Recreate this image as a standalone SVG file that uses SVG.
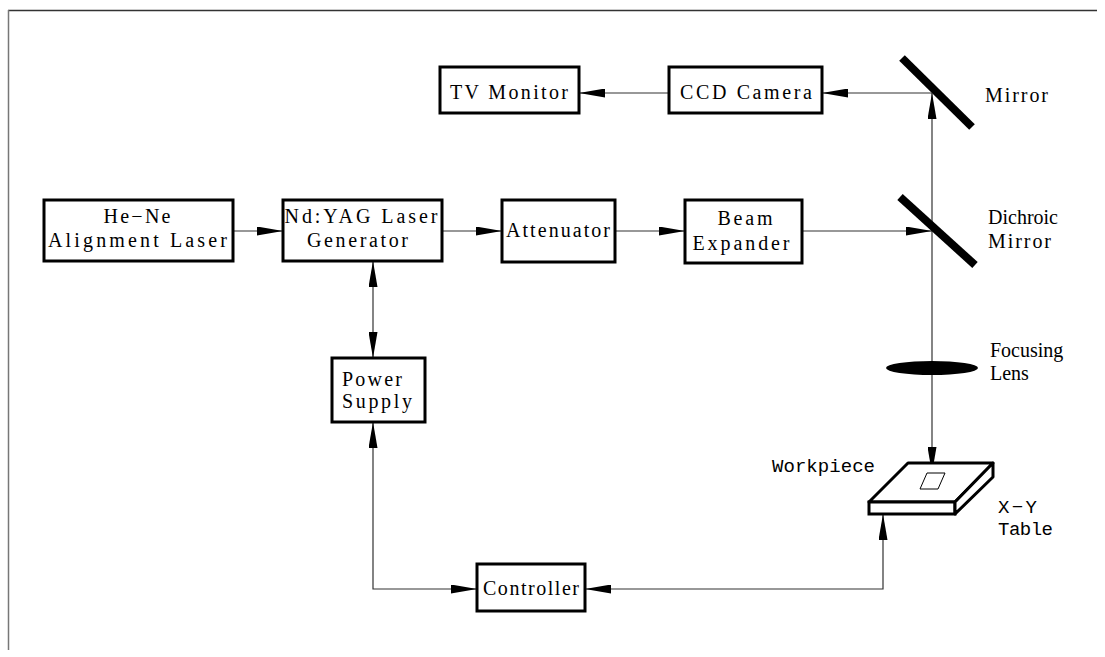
<svg xmlns="http://www.w3.org/2000/svg" width="1105" height="657" viewBox="0 0 1105 657">
<defs>
<marker id="ah" markerUnits="userSpaceOnUse" markerWidth="26" markerHeight="9" refX="26" refY="4.5" orient="auto-start-reverse" viewBox="0 0 26 9">
<path d="M0,0 L26,4.5 L0,9 z" fill="#000"/>
</marker>
<style>
.box{fill:#fff;stroke:#000;stroke-width:3}
.t{font-family:"Liberation Serif","DejaVu Serif",serif;font-size:20px;fill:#000}
.m{font-family:"Liberation Mono","DejaVu Sans Mono",monospace;font-size:19px;fill:#000}
.c{fill:none;stroke:#333;stroke-width:1.2}
.mir{stroke:#000;stroke-width:8}
</style>
</defs>
<rect width="1105" height="657" fill="#fff"/>
<g id="frame">
<line x1="8" y1="10.5" x2="1097" y2="10.5" stroke="#333" stroke-width="1.5"/>
<line x1="8.5" y1="10" x2="8.5" y2="650" stroke="#777" stroke-width="1.5"/>
</g>
<g id="connectors">
<path class="c" d="M932,93 H822" marker-end="url(#ah)"/>
<path class="c" d="M669,93 H579" marker-end="url(#ah)"/>
<path class="c" d="M233,231 H283" marker-end="url(#ah)"/>
<path class="c" d="M442,231 H502" marker-end="url(#ah)"/>
<path class="c" d="M615,231 H685" marker-end="url(#ah)"/>
<path class="c" d="M802,231 H932" marker-end="url(#ah)"/>
<path class="c" d="M932,473 V93" marker-start="url(#ah)" marker-end="url(#ah)"/>
<path class="c" d="M373,261 V358" marker-start="url(#ah)" marker-end="url(#ah)"/>
<path class="c" d="M373,422 V589 H477" marker-start="url(#ah)" marker-end="url(#ah)"/>
<path class="c" d="M585,589 H883 V514" marker-start="url(#ah)" marker-end="url(#ah)"/>
</g>
<g id="tv-monitor">
<rect class="box" x="440" y="67" width="139" height="46"/>
<text class="t" x="509" y="99" text-anchor="middle" textLength="118">TV Monitor</text>
</g>
<g id="ccd-camera">
<rect class="box" x="669" y="67" width="153" height="46"/>
<text class="t" x="746" y="99" text-anchor="middle" textLength="132">CCD Camera</text>
</g>
<g id="mirror">
<line class="mir" x1="902" y1="58" x2="972" y2="127"/>
<text class="t" x="985" y="102" textLength="63">Mirror</text>
</g>
<g id="he-ne">
<rect class="box" x="44" y="200" width="189" height="61"/>
<text class="t" x="137" y="223" text-anchor="middle" textLength="67">He−Ne</text>
<text class="t" x="137.5" y="247" text-anchor="middle" textLength="179">Alignment Laser</text>
</g>
<g id="ndyag">
<rect class="box" x="283" y="200" width="159" height="61"/>
<text class="t" x="361" y="223" text-anchor="middle" textLength="153">Nd:YAG Laser</text>
<text class="t" x="357.5" y="247" text-anchor="middle" textLength="101">Generator</text>
</g>
<g id="attenuator">
<rect class="box" x="502" y="200" width="113" height="62"/>
<text class="t" x="558" y="237" text-anchor="middle" textLength="104">Attenuator</text>
</g>
<g id="beam-expander">
<rect class="box" x="685" y="200" width="117" height="63"/>
<text class="t" x="745" y="225" text-anchor="middle" textLength="55">Beam</text>
<text class="t" x="741" y="250" text-anchor="middle" textLength="97">Expander</text>
</g>
<g id="dichroic-mirror">
<line class="mir" x1="900" y1="197" x2="975" y2="265"/>
<text class="t" x="988" y="224">Dichroic</text>
<text class="t" x="988" y="248" textLength="63">Mirror</text>
</g>
<g id="focusing-lens">
<ellipse cx="932" cy="368" rx="46" ry="7" fill="#000"/>
<text class="t" x="990" y="357">Focusing</text>
<text class="t" x="990" y="380">Lens</text>
</g>
<g id="power-supply">
<rect class="box" x="332" y="358" width="93" height="64"/>
<text class="t" x="372" y="386" text-anchor="middle" textLength="60">Power</text>
<text class="t" x="377" y="408" text-anchor="middle" textLength="70">Supply</text>
</g>
<g id="controller">
<rect class="box" x="477" y="564" width="108" height="47"/>
<text class="t" x="531" y="595" text-anchor="middle" textLength="96">Controller</text>
</g>
<g id="xy-table">
<polygon points="908,463 993,463 955,502 869,502" fill="#fff" stroke="#000" stroke-width="3" stroke-linejoin="round"/>
<rect x="869" y="502" width="86" height="12" fill="#fff" stroke="#000" stroke-width="3"/>
<polygon points="993,463 993,477 955,514 955,502" fill="#fff" stroke="#000" stroke-width="3" stroke-linejoin="round"/>
<polygon points="927,473 945,473 938,489 920,489" fill="#fff" stroke="#000" stroke-width="1"/>
<text class="m" x="998" y="513" textLength="39">X−Y</text>
<text class="m" x="998" y="535" textLength="55">Table</text>
</g>
<g id="workpiece">
<text class="m" x="772" y="472" textLength="103">Workpiece</text>
</g>
</svg>
